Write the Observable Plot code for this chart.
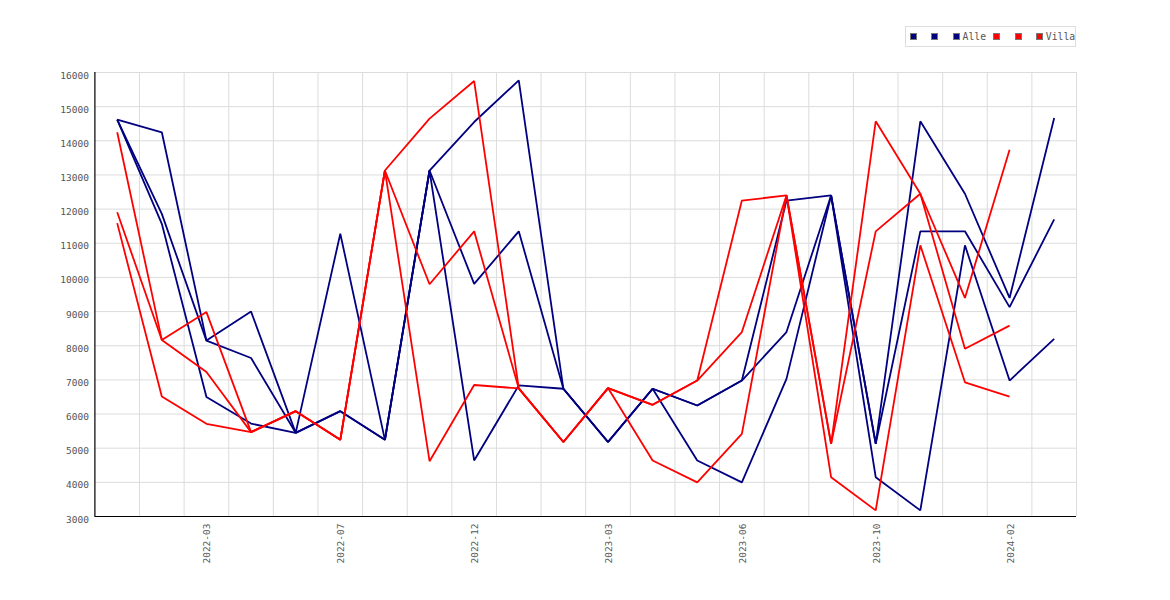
<!DOCTYPE html>
<html>
<head>
<meta charset="utf-8">
<script src="https://cdn.jsdelivr.net/npm/d3@7"></script>
<script src="https://cdn.jsdelivr.net/npm/@observablehq/plot@0.6"></script>
<style>
  html, body { margin: 0; padding: 0; background: #fff; }
  #wrap { position: relative; width: 1170px; height: 600px; }
  #legend {
    position: absolute; left: 905px; top: 26px; height: 19px;
    border: 1px solid #ddd; background: #fff;
    display: flex; align-items: center; padding-left: 3.5px; padding-right: 0;
    font-family: "DejaVu Sans Mono", monospace; font-size: 9.75px; color: #555;
  }
  #legend .item { display: flex; align-items: center; margin-right: 6.6px; }
  #legend .item:last-child { margin-right: 0; }
  #legend .sw { width: 5px; height: 5px; border: 1px solid #777; margin-right: 2.4px; }
  #legend .lb { white-space: pre; }
</style>
</head>
<body>
<div id="wrap">
  <div id="chart"></div>
  <div id="legend"></div>
</div>
<script>
// Categories (x axis)
const months = ["2022-01","2022-02","2022-03","2022-04","2022-05","2022-07","2022-08","2022-10","2022-12","2023-01","2023-02","2023-03","2023-04","2023-05","2023-06","2023-08","2023-09","2023-10","2023-11","2024-01","2024-02","2024-03"];
const xTickLabels = ["2022-03","2022-07","2022-12","2023-03","2023-06","2023-10","2024-02"];
const yTickValues = [3000,4000,5000,6000,7000,8000,9000,10000,11000,12000,13000,14000,15000,16000];

// "Alle" series (navy)
const alle1 = [14620,14250,8150,9000,5450,11280,5245,13130,14550,15770,6740,5180,6740,6250,6980,12250,12400,5130,14570,12450,9400,14670];
const alle2 = [14620,11860,8150,7640,5450,6085,5245,13130,9810,11350,6740,5180,6740,6250,6980,8400,12400,5130,11350,11350,9130,11700];
const alle3 = [14620,11570,6500,5720,5450,6085,5245,13130,4640,6840,6740,5180,6740,4640,4000,7030,12400,4150,3180,10940,6980,8200];

// "Villa" series (red)
const villa1 = [14250,8170,8985,5470,6084,5245,13131,14650,15750,6750,5180,6760,6270,6980,12250,12400,5130,14570,12450,9400,13740];
const villa2 = [11910,8170,7230,5470,6084,5245,13131,9800,11350,6750,5180,6760,6270,6980,8400,12400,5130,11350,12450,7910,8590];
const villa3 = [11590,6513,5713,5470,6084,5245,13131,4620,6850,6750,5180,6760,4640,4000,5420,12400,4150,3180,10940,6930,6510];

const alleNames = [" ", " ", "Alle"];
const villaNames = [" ", " ", "Villa"];
const alleColor = "#000080";
const villaColor = "#ff0000";

function toRows(seriesList, names, group) {
  const rows = [];
  seriesList.forEach((vals, k) => {
    vals.forEach((v, i) => rows.push({month: months[i], value: v, series: group + k, name: names[k]}));
  });
  return rows;
}
const alleRows = toRows([alle1, alle2, alle3], alleNames, "alle");
const villaRows = toRows([villa1, villa2, villa3], villaNames, "villa");

const W = 1170, H = 600, ML = 94.4, MR = 94, MT = 72, MB = 84;
const bw = (W - ML - MR) / months.length;

const chart = Plot.plot({
  width: W, height: H,
  marginLeft: ML, marginRight: MR, marginTop: MT, marginBottom: MB,
  style: {fontFamily: '"DejaVu Sans Mono", monospace', fontSize: "9.5px", background: "#fff", color: "#555"},
  x: {type: "band", domain: months, padding: 0, round: false, axis: null, label: null},
  y: {domain: [3000, 16000], axis: null, label: null},
  marks: [
    Plot.gridY(yTickValues, {stroke: "#dcdcdc", strokeOpacity: 1}),
    Plot.ruleX(months, {dx: bw / 2, stroke: "#dcdcdc", strokeOpacity: 1}),
    Plot.line(alleRows, {x: "month", y: "value", z: "series", stroke: alleColor, strokeWidth: 1.8, strokeLinejoin: "miter", strokeLinecap: "butt"}),
    Plot.line(villaRows, {x: "month", y: "value", z: "series", stroke: villaColor, strokeWidth: 1.8, strokeLinejoin: "miter", strokeLinecap: "butt"}),
    Plot.ruleY([3000], {stroke: "#000", strokeWidth: 1.2}),
    Plot.ruleX([months[0]], {dx: -bw / 2, stroke: "#000", strokeWidth: 1.2}),
    Plot.axisY(yTickValues, {tickSize: 0, tickPadding: 6, fill: "#555", dy: 3, label: null, tickFormat: d => String(d)}),
    Plot.axisX(xTickLabels, {tickSize: 0, tickPadding: 7, tickRotate: -90, fill: "#555", dx: 1, label: null})
  ]
});
document.getElementById("chart").appendChild(chart);

// Legend
const legend = document.getElementById("legend");
const items = [
  ...alleNames.map(n => ({name: n, color: alleColor})),
  ...villaNames.map(n => ({name: n, color: villaColor}))
];
items.forEach(it => {
  const d = document.createElement("div");
  d.className = "item";
  const s = document.createElement("div");
  s.className = "sw";
  s.style.background = it.color;
  const l = document.createElement("span");
  l.className = "lb";
  l.textContent = it.name;
  d.appendChild(s); d.appendChild(l);
  legend.appendChild(d);
});
</script>
</body>
</html>
